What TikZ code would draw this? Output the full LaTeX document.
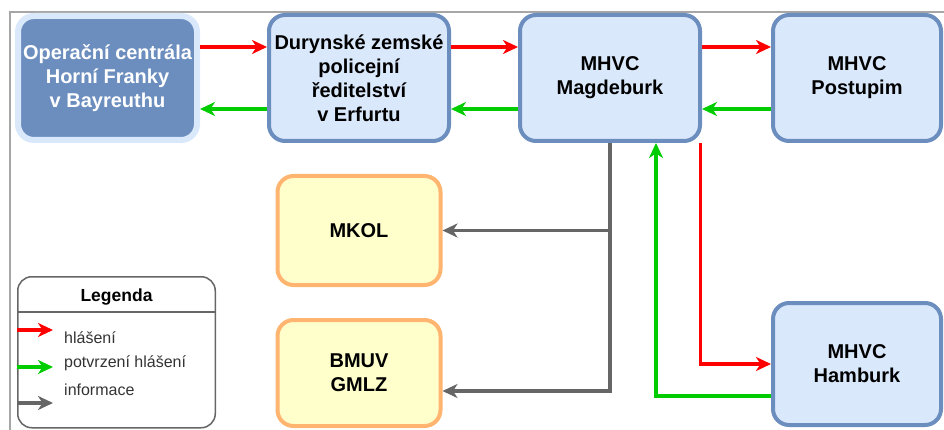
\documentclass[tikz,border=0pt]{standalone}
\usepackage{fontspec}
\setmainfont{Liberation Sans}
\usepackage{xcolor}
\usepackage{tikz}
\usetikzlibrary{positioning,arrows.meta}

\definecolor{boxblue}{HTML}{DAE8FC}
\definecolor{edgeblue}{HTML}{6C8EBF}
\definecolor{boxyellow}{HTML}{FFFFCC}
\definecolor{edgeorange}{HTML}{FFB570}
\definecolor{reportred}{HTML}{FF0000}
\definecolor{confirmgreen}{HTML}{00CC00}
\definecolor{infogray}{HTML}{666666}
\definecolor{framegray}{HTML}{A6A6A6}
\definecolor{legendtextgray}{HTML}{333333}

\tikzset{
	box/.style={draw=edgeblue, fill=boxblue, line width=4pt, rounded corners=16pt,
		align=center, inner sep=0pt, font=\fontsize{20}{24}\selectfont\bfseries,
		minimum width=180pt, minimum height=126pt},
	darkbox/.style={box, draw=boxblue, fill=edgeblue, text=white, line width=6pt,
		minimum width=179pt, minimum height=124pt},
	narrowbox/.style={minimum width=168pt},
	orgbox/.style={box, draw=edgeorange, fill=boxyellow, minimum width=163pt, minimum height=109pt},
	legendbox/.style={draw=infogray, line width=1.5pt, rounded corners=14pt,
		minimum width=197.5pt, minimum height=151pt},
	legendtitle/.style={font=\fontsize{17.5}{21}\selectfont\bfseries, inner sep=0pt},
	legendtext/.style={anchor=west, inner sep=0pt, text=legendtextgray, font=\fontsize{16}{19}\selectfont},
	flow/.style={line width=3.3pt, -{Stealth[length=15pt,width=14pt,inset=4.5pt]}},
	report/.style={flow, draw=reportred},
	confirm/.style={flow, draw=confirmgreen},
	info/.style={flow, draw=infogray}
}

\begin{document}
\begin{tikzpicture}[x=1pt,y=-1pt]
	\useasboundingbox (0,0) rectangle (944,430);
	\draw[framegray, line width=1.2pt] (10,430) -- (10,12) -- (944,12);

	\node[darkbox] (franky) at (107.5,78) {Operační centrála\\Horní Franky\\v Bayreuthu};
	\node[box, right=67pt of franky] (erfurt) {Durynské zemské\\policejní\\ředitelství\\v Erfurtu};
	\node[box, right=67pt of erfurt] (magdeburk) {MHVC\\Magdeburk};
	\node[box, narrowbox, right=69pt of magdeburk] (postupim) {MHVC\\Postupim};
	\node[orgbox, below=31pt of erfurt] (mkol) {MKOL};
	\node[orgbox, below=31pt of mkol, minimum height=106pt] (bmuv) {BMUV\\GMLZ};
	\node[box, narrowbox, below=158pt of postupim, minimum height=122pt] (hamburk) {MHVC\\Hamburk};

	% hlaseni a potvrzeni
	\draw[report] ([yshift=31pt]franky.east) -- ([yshift=31pt]franky.east -| erfurt.west);
	\draw[confirm] ([yshift=-31pt]erfurt.west) -- ([yshift=-31pt]erfurt.west -| franky.east);
	\draw[report] ([yshift=31pt]erfurt.east) -- ([yshift=31pt]erfurt.east -| magdeburk.west);
	\draw[confirm] ([yshift=-31pt]magdeburk.west) -- ([yshift=-31pt]magdeburk.west -| erfurt.east);
	\draw[report] ([yshift=31pt]magdeburk.east) -- ([yshift=31pt]magdeburk.east -| postupim.west);
	\draw[confirm] ([yshift=-31pt]postupim.west) -- ([yshift=-31pt]postupim.west -| magdeburk.east);
	\draw[report] ([xshift=-1.5pt]magdeburk.south east) |- (hamburk.west);
	\draw[confirm] ([yshift=-32pt]hamburk.west) -| ([xshift=46pt]magdeburk.south);

	% informace
	\coordinate (split) at (magdeburk.south |- mkol.east);
	\draw[info] (magdeburk.south) |- ([yshift=-18pt]bmuv.east);
	\draw[info] (split) -- (mkol.east);

	% legenda
	\node[legendbox, below=133pt of franky, xshift=9pt] (legend) {};
	\node[legendtitle] (legendhead) at ([yshift=-21pt]legend.north) {Legenda};
	\draw[infogray, line width=1.3pt] ([yshift=-36pt]legend.north west) -- ([yshift=-36pt]legend.north east);
	\node[legendtext] (hlaseni) at (64,338) {hlášení};
	\node[legendtext] (potvrzeni) at (64,363) {potvrzení hlášení};
	\node[legendtext] (informace) at (64,390) {informace};
	\coordinate (redtip) at (53,330);
	\coordinate (greentip) at (53,367);
	\coordinate (graytip) at (53,403);
	\draw[report] (legend.west |- redtip) -- (redtip);
	\draw[confirm] (legend.west |- greentip) -- (greentip);
	\draw[info] (legend.west |- graytip) -- (graytip);
\end{tikzpicture}
\end{document}
